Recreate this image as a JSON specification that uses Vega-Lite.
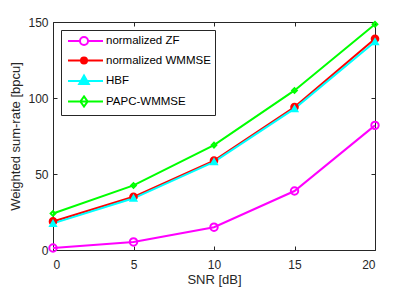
{
  "$schema": "https://vega.github.io/schema/vega-lite/v6.json",
  "width": 322,
  "height": 228,
  "autosize": {"type": "none"},
  "padding": {"left": 53, "top": 22, "right": 40, "bottom": 39},
  "background": "white",
  "config": {
    "font": "Liberation Sans",
    "view": {"stroke": "#262626", "strokeWidth": 1},
    "axis": {
      "domain": false,
      "gridColor": "#e3e3e3",
      "gridWidth": 1,
      "tickColor": "#262626",
      "tickSize": -4,
      "labelColor": "#262626",
      "labelFontSize": 12,
      "titleColor": "#262626",
      "titleFontSize": 13,
      "titleFontWeight": "normal"
    }
  },
  "data": {
    "values": [
      {"snr": 0, "rate": 1.3, "series": "normalized ZF"},
      {"snr": 5, "rate": 5.3, "series": "normalized ZF"},
      {"snr": 10, "rate": 15, "series": "normalized ZF"},
      {"snr": 15, "rate": 38.8, "series": "normalized ZF"},
      {"snr": 20, "rate": 82, "series": "normalized ZF"},
      {"snr": 0, "rate": 18.8, "series": "normalized WMMSE"},
      {"snr": 5, "rate": 35, "series": "normalized WMMSE"},
      {"snr": 10, "rate": 58.8, "series": "normalized WMMSE"},
      {"snr": 15, "rate": 94, "series": "normalized WMMSE"},
      {"snr": 20, "rate": 139, "series": "normalized WMMSE"},
      {"snr": 0, "rate": 17.5, "series": "HBF"},
      {"snr": 5, "rate": 34, "series": "HBF"},
      {"snr": 10, "rate": 58, "series": "HBF"},
      {"snr": 15, "rate": 93, "series": "HBF"},
      {"snr": 20, "rate": 137, "series": "HBF"},
      {"snr": 0, "rate": 24, "series": "PAPC-WMMSE"},
      {"snr": 5, "rate": 42.5, "series": "PAPC-WMMSE"},
      {"snr": 10, "rate": 69, "series": "PAPC-WMMSE"},
      {"snr": 15, "rate": 105, "series": "PAPC-WMMSE"},
      {"snr": 20, "rate": 148.5, "series": "PAPC-WMMSE"}
    ]
  },
  "layer": [
    {
      "mark": {"type": "point", "opacity": 0},
      "encoding": {
        "x": {
          "field": "snr", "type": "quantitative",
          "scale": {"domain": [0, 20], "nice": false},
          "axis": {"orient": "top", "values": [0, 5, 10, 15, 20], "labels": false, "title": null, "grid": false}
        },
        "y": {
          "field": "rate", "type": "quantitative",
          "scale": {"domain": [0, 150], "nice": false},
          "axis": {"orient": "right", "values": [0, 50, 100, 150], "labels": false, "title": null, "grid": false}
        }
      }
    },
    {
      "mark": {"type": "line", "strokeWidth": 2},
      "encoding": {
        "x": {
          "field": "snr", "type": "quantitative",
          "scale": {"domain": [0, 20], "nice": false},
          "axis": {"values": [0, 5, 10, 15, 20], "title": "SNR [dB]", "labelPadding": 13, "titlePadding": 3}
        },
        "y": {
          "field": "rate", "type": "quantitative",
          "scale": {"domain": [0, 150], "nice": false},
          "axis": {"values": [0, 50, 100, 150], "title": "Weighted sum-rate [bpcu]", "labelPadding": 9, "titlePadding": 5}
        },
        "stroke": {
          "field": "series", "type": "nominal",
          "scale": {
            "domain": ["normalized ZF", "normalized WMMSE", "HBF", "PAPC-WMMSE"],
            "range": ["#ff00ff", "#ff0000", "#00ffff", "#00ff00"]
          },
          "legend": {
            "title": null,
            "orient": "top-left",
            "offset": 8,
            "fillColor": "white",
            "strokeColor": "#262626",
            "padding": 4,
            "labelFontSize": 11.5,
            "labelColor": "#000000",
            "labelLimit": 300,
            "symbolSize": 144,
            "symbolStrokeWidth": 2,
            "rowPadding": 3.5,
            "labelOffset": 27,
            "encode": {
              "symbols": {
                "update": {
                  "shape": {"signal": "datum.value === 'normalized ZF' ? 'M-0.67,0L1.33,0A0.67,0.67 0 1,1 2.67,0A0.67,0.67 0 1,1 1.33,0M2.67,0L5.17,0' : datum.value === 'normalized WMMSE' ? 'M-0.67,0L5.17,0M2.5,0A0.5,0.5 0 1,1 1.5,0A0.5,0.5 0 1,1 2.5,0Z' : datum.value === 'HBF' ? 'M-0.67,0L5.17,0M2,-0.9L2.8,0.5L1.2,0.5Z' : 'M-0.67,0L5.17,0M2,-0.85L2.6,0L2,0.85L1.4,0Z'"},
                  "fill": {"signal": "datum.value === 'normalized WMMSE' ? '#ff0000' : datum.value === 'HBF' ? '#00ffff' : 'transparent'"}
                }
              }
            }
          }
        }
      }
    },
    {
      "mark": {"type": "point", "strokeWidth": 2, "opacity": 1},
      "encoding": {
        "x": {"field": "snr", "type": "quantitative", "axis": null},
        "y": {"field": "rate", "type": "quantitative", "axis": null},
        "stroke": {
          "field": "series", "type": "nominal",
          "scale": {
            "domain": ["normalized ZF", "normalized WMMSE", "HBF", "PAPC-WMMSE"],
            "range": ["#ff00ff", "#ff0000", "#00ffff", "#00ff00"]
          },
          "legend": null
        },
        "shape": {
          "field": "series", "type": "nominal",
          "scale": {
            "domain": ["normalized ZF", "normalized WMMSE", "HBF", "PAPC-WMMSE"],
            "range": ["circle", "circle", "triangle-up", "diamond"]
          },
          "legend": null
        },
        "fill": {
          "field": "series", "type": "nominal",
          "scale": {
            "domain": ["normalized ZF", "normalized WMMSE", "HBF", "PAPC-WMMSE"],
            "range": ["transparent", "#ff0000", "#00ffff", "transparent"]
          },
          "legend": null
        },
        "size": {
          "field": "series", "type": "nominal",
          "scale": {
            "domain": ["normalized ZF", "normalized WMMSE", "HBF", "PAPC-WMMSE"],
            "range": [55, 22, 60, 45]
          },
          "legend": null
        }
      }
    }
  ],
  "resolve": {
    "scale": {"stroke": "independent"},
    "legend": {"stroke": "independent"},
    "axis": {"x": "independent", "y": "independent"}
  }
}
